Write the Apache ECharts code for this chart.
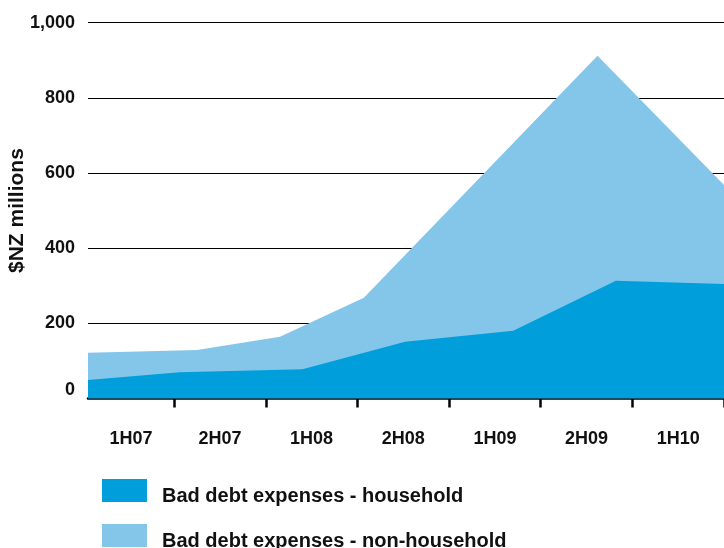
<!DOCTYPE html>
<html>
<head>
<meta charset="utf-8">
<script src="https://cdn.jsdelivr.net/npm/echarts@6/dist/echarts.min.js"></script>
<style>
  html, body { margin: 0; padding: 0; background: #fff; }
  #chart { width: 724px; height: 548px; }
</style>
</head>
<body>
<div id="chart"></div>
<script>
// Half-year periods; the x axis runs in period units (boundaries at whole numbers)
const periods = ['1H07', '2H07', '1H08', '2H08', '1H09', '2H09', '1H10'];
const periodCentres = [0.53, 1.5, 2.5, 3.5, 4.5, 5.5, 6.5];
const periodBoundaries = [1, 2, 3, 4, 5, 6, 7];

// Household bad debt expenses ($NZ millions)
const householdX = [0.06, 1.06, 2.4, 3.52, 4.7, 5.82, 7.0];
const householdY = [49, 70, 78, 151, 180, 313, 305];

// Total bad debt expenses, household + non-household ($NZ millions)
const totalX = [0.06, 1.25, 2.155, 3.07, 5.62, 7.0];
const totalY = [122, 129, 164, 268, 912, 568];

const yTicks = [0, 200, 400, 600, 800, 1000];

const seriesNames = ['Bad debt expenses - household', 'Bad debt expenses - non-household'];

const pairs = (xs, ys) => xs.map((x, i) => [x, ys[i]]);

const FONT = 'Liberation Sans';
const DARK = '#009fdb';
const LIGHT = '#84c6ea';

// One legend block per row so each sits at its own fixed position
const legendRow = (name, top) => ({
  orient: 'vertical',
  left: 102,
  top: top,
  padding: 0,
  itemWidth: 45,
  itemHeight: 23,
  itemGap: 0,
  icon: 'rect',
  data: [name],
  formatter: (n) => '{t|' + n + '}',
  textStyle: {
    fontFamily: FONT, fontWeight: 'bold', fontSize: 20, color: '#111',
    rich: {
      t: {
        fontFamily: FONT, fontWeight: 'bold', fontSize: 20, color: '#111',
        padding: [11, 0, 0, 10]
      }
    }
  }
});

const chart = echarts.init(document.getElementById('chart'));
chart.setOption({
  animation: false,
  backgroundColor: '#ffffff',
  grid: { left: 88, right: 0, top: 22.7, bottom: 149.5, containLabel: false, outerBoundsMode: 'none' },
  legend: [legendRow(seriesNames[0], 479), legendRow(seriesNames[1], 524)],
  xAxis: {
    type: 'value',
    min: 0.06,
    max: 7,
    axisLine: { show: true, lineStyle: { color: '#000', width: 2.5 } },
    axisTick: {
      show: true, customValues: periodBoundaries, length: 9,
      lineStyle: { color: '#000', width: 2.5 }
    },
    axisLabel: {
      customValues: periodCentres,
      margin: 32,
      fontFamily: FONT, fontWeight: 'bold', fontSize: 18, color: '#111',
      formatter: (v) => periods[periodCentres.indexOf(v)] || ''
    },
    splitLine: { show: false }
  },
  yAxis: {
    type: 'value',
    min: yTicks[0],
    max: yTicks[yTicks.length - 1],
    interval: 200,
    name: '$NZ millions',
    nameLocation: 'middle',
    nameRotate: 90,
    nameGap: 60,
    nameMoveOverlap: false,
    nameTextStyle: { fontFamily: FONT, fontWeight: 'bold', fontSize: 21, color: '#111' },
    axisLine: { show: false },
    axisTick: { show: false },
    axisLabel: {
      margin: 13,
      fontFamily: FONT, fontWeight: 'bold', fontSize: 18, color: '#111',
      formatter: (v) => v === 0 ? '{z|0}' : v.toLocaleString('en-US'),
      rich: {
        z: { fontFamily: FONT, fontWeight: 'bold', fontSize: 18, color: '#111', padding: [0, 0, 17, 0] }
      }
    },
    splitLine: { show: true, lineStyle: { color: '#000', width: 1.2 } }
  },
  series: [
    {
      name: seriesNames[1],
      type: 'line',
      data: pairs(totalX, totalY),
      symbol: 'none',
      itemStyle: { color: LIGHT },
      lineStyle: { width: 0 },
      areaStyle: { color: LIGHT, opacity: 1 },
      z: 2
    },
    {
      name: seriesNames[0],
      type: 'line',
      data: pairs(householdX, householdY),
      symbol: 'none',
      itemStyle: { color: DARK },
      lineStyle: { width: 0 },
      areaStyle: { color: DARK, opacity: 1 },
      z: 3
    }
  ]
});
</script>
</body>
</html>
